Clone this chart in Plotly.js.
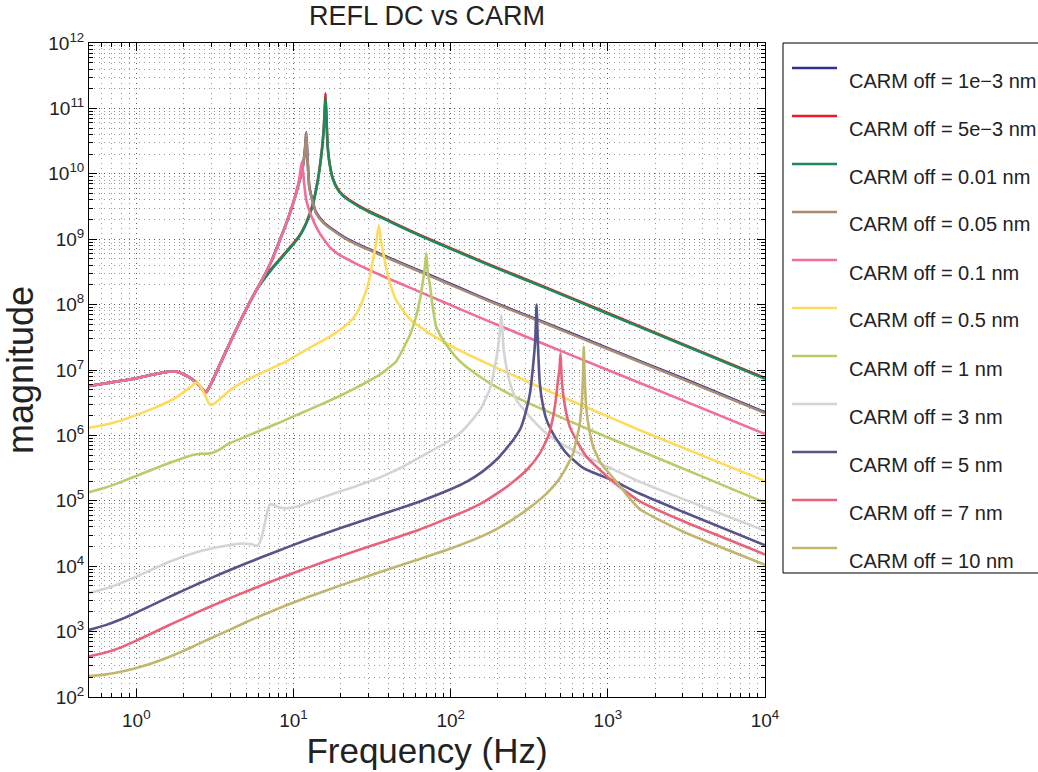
<!DOCTYPE html>
<html><head><meta charset="utf-8">
<script src="https://cdn.plot.ly/plotly-3.0.1.min.js"></script>
<style>html,body{margin:0;padding:0;background:#fff}#chart{width:1038px;height:772px}</style>
</head><body><div id="chart"></div>
<script>
// ---- series names & colours ----
const seriesNames = ['CARM off = 1e\u22123 nm','CARM off = 5e\u22123 nm','CARM off = 0.01 nm','CARM off = 0.05 nm','CARM off = 0.1 nm','CARM off = 0.5 nm','CARM off = 1 nm','CARM off = 3 nm','CARM off = 5 nm','CARM off = 7 nm','CARM off = 10 nm'];
const seriesColors = ['#2E3192','#ED1C24','#1E8A5C','#A88B72','#F06E9A','#FFDB5C','#BBCB6A','#D4D4D4','#56558A','#E8637A','#C2B66E'];

// ---- data (frequency in Hz, magnitude) ----
const f_1e3 = [0.5,0.7,1,1.3,1.6,1.8,2.0,2.2,2.4,2.6,2.75,2.85,3.0,3.25,3.5,4.0,4.5,5.0,5.8,6.35,7.2,8.15,9.4,10.3,10.9,11.3,11.6,11.85,12.05,12.3,12.6,13.2,13.9,15.5,17.7,21,26.3,35,50,73.5,110,177,400,1000,3000,10000];
const m_1e3 = [5.7e6,6.5e6,7.5e6,8.6e6,9.4e6,9.4e6,8.6e6,7.6e6,6.5e6,5.3e6,4.5e6,5.0e6,6.3e6,9.5e6,1.41e7,2.8e7,5.1e7,8.5e7,1.66e8,2.45e8,4.5e8,9.45e8,2.36e9,4.71e9,7.73e9,1.08e10,1.55e10,2.47e10,4.3e10,1.63e10,6.5e9,3.91e9,2.59e9,1.83e9,1.42e9,1.08e9,8.18e8,6.07e8,4.19e8,2.83e8,1.87e8,1.15e8,5.28e7,2.15e7,7.46e6,2.26e6];

const f_5e3 = [0.5,0.7,1,1.3,1.6,1.8,2.0,2.2,2.4,2.6,2.75,2.85,3.0,3.25,3.5,4.0,4.5,5.0,5.8,6.7,7.5,8.5,9.6,10.9,12,13.2,14,14.6,15.2,15.6,16.0,16.3,16.5,17,17.8,19,20.5,23,26.3,31,40,55,73.5,110,177,400,1000,3000,10000];
const m_5e3 = [5.7e6,6.5e6,7.5e6,8.6e6,9.4e6,9.4e6,8.6e6,7.6e6,6.5e6,5.3e6,4.5e6,5.0e6,6.3e6,9.5e6,1.41e7,2.8e7,5.1e7,8.5e7,1.66e8,2.76e8,3.9e8,5.51e8,7.7e8,1.13e9,1.74e9,3.28e9,6.19e9,1.13e10,2.46e10,5.14e10,1.7e11,5.14e10,2.64e10,1.42e10,8.54e9,6.04e9,4.8e9,3.9e9,3.21e9,2.61e9,1.96e9,1.36e9,1.0e9,6.63e8,4.08e8,1.85e8,7.43e7,2.49e7,7.52e6];

const f_001 = [0.5,0.7,1,1.3,1.6,1.8,2.0,2.2,2.4,2.6,2.75,2.85,3.0,3.25,3.5,4.0,4.5,5.0,5.8,6.7,7.5,8.5,9.6,10.9,12,13.2,14,14.6,15.2,15.6,16.0,16.3,16.5,17,17.8,19,20.5,23,26.3,31,40,55,73.5,110,177,400,1000,3000,10000];
const m_001 = [5.7e6,6.5e6,7.5e6,8.6e6,9.4e6,9.4e6,8.6e6,7.6e6,6.5e6,5.3e6,4.5e6,5.0e6,6.3e6,9.5e6,1.41e7,2.8e7,5.1e7,8.5e7,1.66e8,2.69e8,3.8e8,5.37e8,7.5e8,1.1e9,1.7e9,3.2e9,6.03e9,1.1e10,2.4e10,5.01e10,1.5e11,5.01e10,2.57e10,1.38e10,8.32e9,5.89e9,4.68e9,3.8e9,3.13e9,2.54e9,1.91e9,1.33e9,9.77e8,6.46e8,3.98e8,1.8e8,7.24e7,2.43e7,7.33e6];

const f_005 = [0.5,0.7,1,1.3,1.6,1.8,2.0,2.2,2.4,2.6,2.75,2.85,3.0,3.25,3.5,4.0,4.5,5.0,5.8,6.35,7.2,8.15,9.4,10.3,10.9,11.3,11.6,11.85,12.05,12.3,12.6,13.2,13.9,15.5,17.7,21,26.3,35,50,73.5,110,177,400,1000,3000,10000];
const m_005 = [5.7e6,6.5e6,7.5e6,8.6e6,9.4e6,9.4e6,8.6e6,7.6e6,6.5e6,5.3e6,4.5e6,5.0e6,6.3e6,9.5e6,1.41e7,2.8e7,5.1e7,8.5e7,1.66e8,2.45e8,4.47e8,9.33e8,2.29e9,4.57e9,7.5e9,1.05e10,1.5e10,2.4e10,4.2e10,1.58e10,6.31e9,3.8e9,2.51e9,1.78e9,1.38e9,1.05e9,7.94e8,5.89e8,4.07e8,2.75e8,1.82e8,1.12e8,5.13e7,2.09e7,7.24e6,2.19e6];

const f_01 = [0.5,0.7,1,1.3,1.6,1.8,2.0,2.2,2.4,2.6,2.75,2.85,3.0,3.25,3.5,4.0,4.5,5.0,5.8,6.35,7.2,8.15,9.4,10.3,10.9,11.3,11.7,12.05,13,14.6,17,19.6,23,26.3,33,40,55,73.5,110,177,400,1000,3000,10000];
const m_01 = [5.7e6,6.5e6,7.5e6,8.6e6,9.4e6,9.4e6,8.6e6,7.6e6,6.5e6,5.3e6,4.5e6,5.0e6,6.3e6,9.5e6,1.41e7,2.8e7,5.1e7,8.5e7,1.66e8,2.45e8,4.47e8,9.33e8,2.34e9,4.79e9,8.51e9,1.53e10,7.08e9,3.98e9,2.24e9,1.26e9,7.59e8,5.75e8,4.68e8,3.98e8,3.09e8,2.51e8,1.82e8,1.35e8,8.91e7,5.5e7,2.45e7,1.0e7,3.43e6,1.05e6];

const f_05 = [0.5,0.631,0.794,1.0,1.259,1.585,1.778,1.995,2.239,2.388,2.512,2.63,2.754,2.884,2.951,3.09,3.311,3.846,4.571,5.7,7.3,9.3,12.5,17,22,25,27.6,30.5,32,33.5,34.9,36.3,38,41,45,55,73.5,110,177,400,800,1600,4000,10000];
const m_05 = [1.31e6,1.46e6,1.68e6,2.04e6,2.54e6,3.24e6,3.76e6,4.57e6,5.62e6,6.4e6,6.03e6,5.01e6,3.98e6,3.16e6,2.92e6,2.99e6,3.39e6,4.68e6,6.17e6,8.13e6,1.07e7,1.42e7,2.14e7,3.23e7,5.01e7,7.08e7,1.17e8,2.51e8,4.79e8,8.51e8,1.65e9,8.51e8,4.79e8,2.19e8,1.17e8,6.03e7,3.63e7,2.09e7,1.21e7,5.01e6,2.45e6,1.2e6,4.9e5,2.0e5];

const f_1 = [0.5,0.631,0.794,1.0,1.259,1.585,1.995,2.291,2.547,2.754,3.02,3.311,3.846,5.012,6.31,7.943,10,12.59,15.85,19.95,25.12,31.62,35,39.8,45,50,55,60,64,67,68.7,70,71.5,73.5,77,81,90,108,130,153,177,250,400,800,1600,4000,10000];
const m_1 = [1.35e5,1.58e5,1.93e5,2.4e5,2.99e5,3.72e5,4.52e5,5.01e5,5.25e5,5.25e5,5.37e5,5.89e5,7.41e5,9.66e5,1.22e6,1.53e6,1.95e6,2.48e6,3.16e6,4.07e6,5.37e6,7.24e6,8.32e6,1.05e7,1.35e7,2.14e7,3.39e7,6.31e7,1.26e8,2.51e8,3.98e8,6.1e8,3.16e8,2.14e8,8.91e7,4.57e7,2.82e7,1.58e7,1.05e7,7.94e6,6.31e6,4.03e6,2.4e6,1.17e6,5.82e5,2.34e5,9.33e4];

const f_3 = [0.5,0.631,0.794,1.0,1.259,1.585,1.995,2.512,3.162,3.981,4.467,5.012,5.495,5.84,6.1,6.28,6.53,6.76,7.1,7.41,7.8,8.85,10,11.3,14.1,17,24.7,31.6,45,56.2,72.4,100,120,153,177,192,203,210,217,226,240,262,300,350,407,501,664,1000,1600,3000,10000];
const m_3 = [3.89e3,4.52e3,5.5e3,6.92e3,8.91e3,1.14e4,1.41e4,1.68e4,1.91e4,2.11e4,2.21e4,2.21e4,2.14e4,2.04e4,2.29e4,2.82e4,4.17e4,6.31e4,8.91e4,8.71e4,8.22e4,7.67e4,7.94e4,8.63e4,1.05e5,1.23e5,1.66e5,2.04e5,2.95e5,3.89e5,5.5e5,8.51e5,1.2e6,2.4e6,5.01e6,1.2e7,2.82e7,6.92e7,2.19e7,1.12e7,6.03e6,3.47e6,2.29e6,1.51e6,1.07e6,7.59e5,5.25e5,3.31e5,1.95e5,1.07e5,3.47e4];

const f_5 = [0.5,0.631,0.794,1.0,1.259,1.585,1.995,2.512,3.162,3.981,5.012,6.31,7.943,10,15.85,25.12,39.81,63.1,100,125.9,158.5,200,250,280,303,320,334,345,352,359,369,385,407,460,546,700,1080,1600,3000,10000];
const m_5 = [1.06e3,1.245e3,1.53e3,1.95e3,2.54e3,3.3e3,4.27e3,5.48e3,6.98e3,8.83e3,1.107e4,1.38e4,1.71e4,2.12e4,3.17e4,4.63e4,6.67e4,9.7e4,1.5e5,1.95e5,2.77e5,4.47e5,8.51e5,1.32e6,2.45e6,4.47e6,1.12e7,2.82e7,1.0e8,2.51e7,6.31e6,3.02e6,1.74e6,9.55e5,5.32e5,3.16e5,2.04e5,1.28e5,6.8e4,2.09e4];

const f_7 = [0.5,0.631,0.794,1.0,1.259,1.585,1.995,2.512,3.162,3.981,5.012,6.31,7.943,10,15.85,25.12,39.81,63.1,100,125.9,158.5,200,250,310,369,420,449,470,482,492,500,508,519,545,573,640,731,1080,1600,3000,10000];
const m_7 = [417,473,569,726,944,1.23e3,1.58e3,2.04e3,2.59e3,3.28e3,4.11e3,5.13e3,6.37e3,7.87e3,1.18e4,1.72e4,2.48e4,3.61e4,5.62e4,7.08e4,9.33e4,1.32e5,1.95e5,3.09e5,5.32e5,1.0e6,1.94e6,3.98e6,7.08e6,1.0e7,1.8e7,7.94e6,4.41e6,2.14e6,1.35e6,7.94e5,4.73e5,1.95e5,9.77e4,4.9e4,1.51e4];

const f_10 = [0.5,0.631,0.794,1.0,1.259,1.585,1.995,2.512,3.162,3.981,5.012,6.31,7.943,10,15.85,25.12,39.81,63.1,100,158.5,200,250,320,407,480,546,600,631,660,680,695,703,712,731,760,806,900,1080,1300,1600,3000,10000];
const m_10 = [209,220,243,277,327,401,507,655,843,1.08e3,1.40e3,1.78e3,2.24e3,2.79e3,4.19e3,6.17e3,8.91e3,1.28e4,1.86e4,2.88e4,3.8e4,5.25e4,7.94e4,1.29e5,2.0e5,3.31e5,5.25e5,8.51e5,1.41e6,2.75e6,7.94e6,2.27e7,7.94e6,2.45e6,1.26e6,6.76e5,3.8e5,2.24e5,1.29e5,7.41e4,3.39e4,1.05e4];

// ---- axes ticks ----
const xTickVals = [1,10,100,1000,10000];
const xTickExp = ['0','1','2','3','4'];
const yTickVals = [1e2,1e3,1e4,1e5,1e6,1e7,1e8,1e9,1e10,1e11,1e12];
const yTickExp = ['2','3','4','5','6','7','8','9','10','11','12'];
const supLabel = e => '10<sup>' + e + '</sup>';

const xs = [f_1e3,f_5e3,f_001,f_005,f_01,f_05,f_1,f_3,f_5,f_7,f_10];
const ys = [m_1e3,m_5e3,m_001,m_005,m_01,m_05,m_1,m_3,m_5,m_7,m_10];

const FONT = '"Liberation Sans", Arial, Helvetica, sans-serif';

const traces = xs.map((x, i) => ({
  type: 'scatter', mode: 'lines', x: x, y: ys[i], name: seriesNames[i],
  line: {color: seriesColors[i], width: 2.6, shape: 'spline', smoothing: 0.5}, showlegend: false, hoverinfo: 'skip'
}));

// manual legend (MATLAB style: text sits slightly below the sample line)
const L = 89, PW = 676, T = 43, PH = 654;
const px2x = p => (p - L) / PW;
const px2y = p => (T + PH - p) / PH;
const shapes = [{type: 'rect', xref: 'paper', yref: 'paper', x0: px2x(783), x1: px2x(1060), y0: px2y(573), y1: px2y(43), line: {color: '#000', width: 1}, fillcolor: 'rgba(255,255,255,0)'}];
const annotations = [];
seriesNames.forEach((nm, i) => {
  const ly = 68 + 48 * i;
  shapes.push({type: 'line', xref: 'paper', yref: 'paper', x0: px2x(792), x1: px2x(837), y0: px2y(ly), y1: px2y(ly), line: {color: seriesColors[i], width: 2.6}});
  annotations.push({xref: 'paper', yref: 'paper', x: px2x(847), y: px2y(ly + 12.5), xanchor: 'left', yanchor: 'middle', showarrow: false, text: nm, font: {family: FONT, size: 20, color: '#222'}});
});

const GRIDC = 'rgba(0,0,0,0.4)';
const axisCommon = {
  ticks: 'inside', ticklen: 8, tickcolor: '#000', tickwidth: 1,
  showline: true, linecolor: '#000', linewidth: 1, mirror: 'allticks', zeroline: false,
  showgrid: true, gridcolor: GRIDC, gridwidth: 1, griddash: '1px,4px',
  minor: {ticks: 'inside', ticklen: 4, tickcolor: '#000', showgrid: true, gridcolor: GRIDC, gridwidth: 1, griddash: '1px,4px', dtick: 'D1'},
  automargin: false
};

const layout = {
  width: 1038, height: 772,
  margin: {l: L, r: 1038 - L - PW, t: T, b: 772 - T - PH},
  paper_bgcolor: '#fff', plot_bgcolor: '#fff',
  font: {family: FONT, color: '#222'},
  title: {text: 'REFL DC vs CARM', font: {family: FONT, size: 27, color: '#222'}, x: 0.5, xref: 'paper', xanchor: 'center', y: 1 - 16 / 772, yref: 'container', yanchor: 'middle'},
  xaxis: Object.assign({}, axisCommon, {
    type: 'log', range: [Math.log10(0.5), 4], autorange: false,
    tickvals: xTickVals, ticktext: xTickExp.map(supLabel), tickfont: {family: FONT, size: 19, color: '#222'},
    ticklabelstandoff: 6,
    title: {text: 'Frequency (Hz)', font: {family: FONT, size: 35, color: '#222'}, standoff: 6}
  }),
  yaxis: Object.assign({}, axisCommon, {
    type: 'log', range: [2, 12], autorange: false,
    tickvals: yTickVals, ticktext: yTickExp.map(supLabel), tickfont: {family: FONT, size: 19, color: '#222'},
    title: {text: 'magnitude', font: {family: FONT, size: 36, color: '#222'}, standoff: 6}
  }),
  shapes: shapes,
  annotations: annotations,
  showlegend: false
};

Plotly.newPlot('chart', traces, layout, {staticPlot: true, displayModeBar: false});
</script>
</body></html>
